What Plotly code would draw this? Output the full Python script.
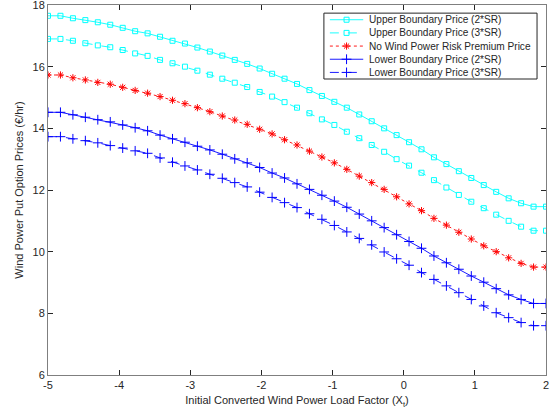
import plotly.graph_objects as go

x_start, x_step, n_pts = -5.0, 0.175, 41
x_vals = [round(x_start + i * x_step, 3) for i in range(n_pts)]

upper_2sr = [17.65, 17.65, 17.57, 17.51, 17.44, 17.36, 17.26, 17.15, 17.08, 16.97,
             16.84, 16.75, 16.62, 16.49, 16.36, 16.22, 16.09, 15.94, 15.77, 15.61,
             15.44, 15.24, 15.05, 14.86, 14.67, 14.45, 14.23, 14.00, 13.78, 13.55,
             13.32, 13.06, 12.84, 12.61, 12.39, 12.16, 11.94, 11.73, 11.57, 11.46, 11.46]
upper_3sr = [16.90, 16.90, 16.84, 16.76, 16.69, 16.63, 16.54, 16.43, 16.35, 16.22,
             16.11, 16.00, 15.87, 15.74, 15.61, 15.48, 15.34, 15.18, 15.03, 14.85,
             14.67, 14.49, 14.29, 14.11, 13.89, 13.68, 13.46, 13.24, 13.00, 12.79,
             12.56, 12.32, 12.08, 11.84, 11.62, 11.41, 11.20, 11.00, 10.81, 10.68, 10.68]
no_premium = [15.73, 15.73, 15.64, 15.57, 15.49, 15.43, 15.33, 15.23, 15.14, 15.03,
              14.91, 14.80, 14.67, 14.54, 14.40, 14.27, 14.13, 13.97, 13.82, 13.63,
              13.46, 13.26, 13.07, 12.88, 12.67, 12.45, 12.24, 12.02, 11.78, 11.55,
              11.33, 11.08, 10.86, 10.63, 10.41, 10.19, 10.00, 9.80, 9.62, 9.50, 9.50]
lower_2sr = [14.52, 14.52, 14.44, 14.36, 14.28, 14.21, 14.11, 14.02, 13.92, 13.78,
             13.66, 13.55, 13.42, 13.30, 13.16, 13.01, 12.88, 12.73, 12.55, 12.39,
             12.20, 12.02, 11.83, 11.64, 11.44, 11.22, 11.00, 10.78, 10.55, 10.33,
             10.11, 9.86, 9.64, 9.43, 9.21, 9.01, 8.80, 8.60, 8.45, 8.32, 8.32]
lower_3sr = [13.73, 13.73, 13.66, 13.60, 13.53, 13.44, 13.36, 13.27, 13.19, 13.04,
             12.90, 12.78, 12.65, 12.51, 12.38, 12.24, 12.10, 11.93, 11.76, 11.59,
             11.43, 11.23, 11.05, 10.85, 10.64, 10.43, 10.22, 9.99, 9.77, 9.56,
             9.32, 9.10, 8.89, 8.67, 8.45, 8.24, 8.02, 7.86, 7.70, 7.60, 7.60]

names = ["Upper Boundary Price (2*SR)", "Upper Boundary Price (3*SR)",
         "No Wind Power Risk Premium Price", "Lower Boundary Price (2*SR)",
         "Lower Boundary Price (3*SR)"]

x_ticks = [-5, -4, -3, -2, -1, 0, 1, 2]
x_ticktext = ["-5", "-4", "-3", "-2", "-1", "0", "1", "2"]
y_ticks = [6, 8, 10, 12, 14, 16, 18]

styles = [
    (upper_2sr, "#00FFFF", "solid", "square-open", 5),
    (upper_3sr, "#00FFFF", "dash", "square-open", 5),
    (no_premium, "#FF0000", "dot", "asterisk-open", 6),
    (lower_2sr, "#0000FF", "solid", "cross-thin-open", 7),
    (lower_3sr, "#0000FF", "dash", "cross-thin-open", 7),
]

fig = go.Figure()
for (ys, col, dash, sym, sz), nm in zip(styles, names):
    fig.add_trace(go.Scatter(
        x=x_vals, y=ys, name=nm, mode="lines+markers", showlegend=False,
        line=dict(color=col, width=0.9, dash=dash),
        marker=dict(symbol=sym, size=sz, color=col, line=dict(color=col, width=1)),
    ))

# Custom compact legend (MATLAB-style), drawn on an overlay axis in paper fractions
leg_x0, leg_x1, leg_top, leg_bot = 0.554, 0.982, 0.978, 0.800
row_h = (leg_top - leg_bot) / 5.0
fig.add_shape(type="rect", xref="paper", yref="paper",
              x0=leg_x0, x1=leg_x1, y0=leg_bot, y1=leg_top,
              line=dict(color="#262626", width=1), fillcolor="white", layer="below")
for i, ((ys, col, dash, sym, sz), nm) in enumerate(zip(styles, names)):
    yc = leg_top - row_h * (i + 0.5)
    fig.add_trace(go.Scatter(
        x=[leg_x0 + 0.012, leg_x0 + 0.0455, leg_x0 + 0.079], y=[yc, yc, yc],
        xaxis="x2", yaxis="y2", mode="lines", showlegend=False, hoverinfo="skip",
        line=dict(color=col, width=0.9, dash=dash),
    ))
    fig.add_trace(go.Scatter(
        x=[leg_x0 + 0.0455], y=[yc],
        xaxis="x2", yaxis="y2", mode="markers", showlegend=False, hoverinfo="skip",
        marker=dict(symbol=sym, size=sz, color=col, line=dict(color=col, width=1)),
    ))
    fig.add_annotation(xref="paper", yref="paper", x=leg_x0 + 0.087, y=yc,
                       text=nm, showarrow=False, xanchor="left", yanchor="middle",
                       font=dict(size=10.1, color="#262626"))

axis_common = dict(
    showgrid=False, zeroline=False, showline=True, mirror="ticks",
    linecolor="#7f7f7f", linewidth=1, ticks="inside", ticklen=5,
    tickcolor="#262626", tickfont=dict(size=11, color="#262626"),
    automargin=False, ticklabeloverflow="allow",
)
fig.update_layout(
    width=551, height=418,
    margin=dict(l=48, r=5, t=5, b=43),
    paper_bgcolor="white", plot_bgcolor="white",
    font=dict(family="Liberation Sans, Arial, sans-serif", size=11, color="#262626"),
    xaxis=dict(range=[-5, 2], tickvals=x_ticks, ticktext=x_ticktext,
               title=dict(text="Initial Converted Wind Power Load Factor (X<sub>t</sub>)",
                          font=dict(size=11), standoff=6),
               **axis_common),
    yaxis=dict(range=[6, 18], tickvals=y_ticks,
               title=dict(text="Wind Power Put Option Prices (€/hr)",
                          font=dict(size=11), standoff=6),
               **axis_common),
    xaxis2=dict(overlaying="x", range=[0, 1], visible=False, fixedrange=True),
    yaxis2=dict(overlaying="y", range=[0, 1], visible=False, fixedrange=True),
    showlegend=False,
)

fig.write_html("out.html")
